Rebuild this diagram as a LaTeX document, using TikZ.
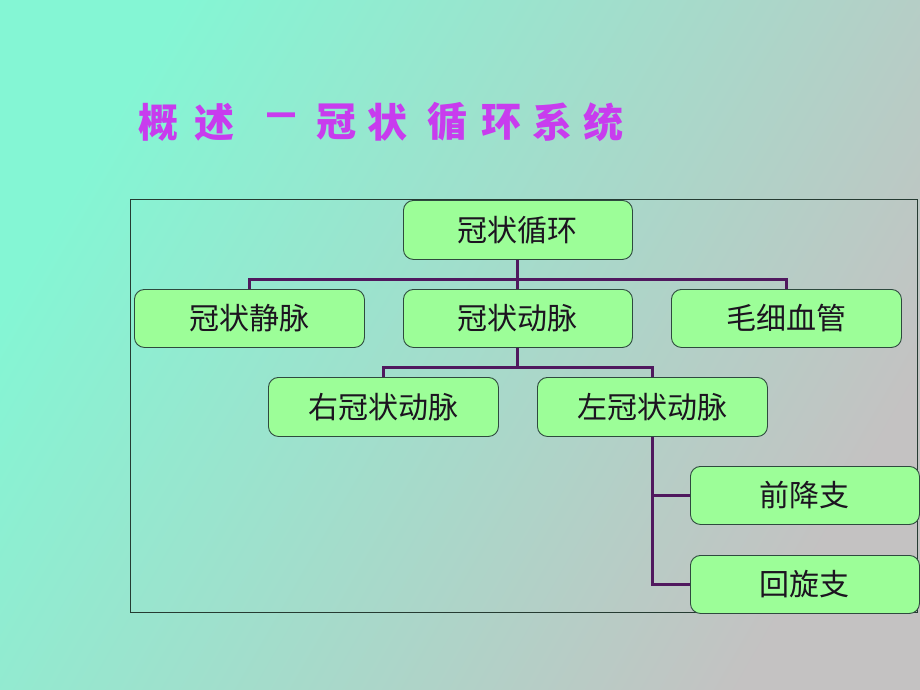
\documentclass[tikz,border=0pt]{standalone}
\usepackage{fontspec}
\newfontfamily\cjk{Noto Sans CJK SC}
\usetikzlibrary{calc}
\definecolor{bgA}{HTML}{84F6D4}
\definecolor{bgB}{HTML}{C4C2C2}
\definecolor{boxfill}{HTML}{9CFE98}
\definecolor{boxline}{HTML}{2E4A3E}
\definecolor{linkc}{HTML}{50185E}
\definecolor{titlec}{HTML}{C83CEE}
\definecolor{txtc}{HTML}{1C1420}
\tikzset{
  orgbox/.style={draw=boxline, line width=0.9pt, fill=boxfill, rounded corners=10pt,
    anchor=north west, inner sep=0pt, text=txtc,
    font=\cjk\fontsize{30}{30}\selectfont},
  linkline/.style={draw=linkc, line width=3pt},
  frameline/.style={draw=boxline!80!black, line width=1pt},
  tchar/.style={inner sep=0pt, text=titlec, font=\cjk\bfseries\fontsize{40}{40}\selectfont}
}
\begin{document}
\begin{tikzpicture}[x=1pt,y=-1pt]
\useasboundingbox (0,0) rectangle (920,690);
\shade[left color=bgA, right color=bgB, shading angle=60] (0,0) rectangle (920,690);
% title
\foreach \c/\x in {概/158,述/214,－/281,冠/336,状/387,循/447,环/501,系/552,统/603}{
  \node[tchar] (tt\x) at (\x,122) {\c};
}
% frame
\path[frameline] (130,199) rectangle (917,612);
% boxes
\node[orgbox, minimum width=229pt, minimum height=59pt] (top) at (403,200) {冠状循环};
\node[orgbox, minimum width=230pt, minimum height=58pt] (vein) at (134,289) {冠状静脉};
\node[orgbox, minimum width=229pt, minimum height=58pt] (art) at (403,289) {冠状动脉};
\node[orgbox, minimum width=230pt, minimum height=58pt] (cap) at (671,289) {毛细血管};
\node[orgbox, minimum width=230pt, minimum height=59pt] (rca) at (268,377) {右冠状动脉};
\node[orgbox, minimum width=230pt, minimum height=59pt] (lca) at (537,377) {左冠状动脉};
\node[orgbox, minimum width=229pt, minimum height=58pt] (lad) at (690,466) {前降支};
\node[orgbox, minimum width=229pt, minimum height=58pt] (lcx) at (690,555) {回旋支};
% connectors
\coordinate (bus1) at ($(top.south)+(0,20)$);
\coordinate (bus2) at ($(art.south)+(0,20)$);
\path[linkline] (top.south) -- (art.north);
\path[linkline] (vein.north) |- (bus1) -| (cap.north);
\path[linkline] (art.south) -- (bus2);
\path[linkline] (rca.north) |- (bus2) -| (lca.north);
\path[linkline] (lca.south) |- (lcx.west);
\path[linkline] (lca.south |- lad.west) -- (lad.west);
\end{tikzpicture}
\end{document}
